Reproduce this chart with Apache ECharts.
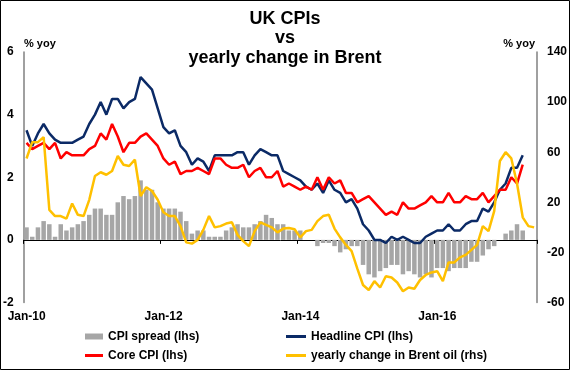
<!DOCTYPE html>
<html>
<head>
<meta charset="utf-8">
<script src="https://cdn.jsdelivr.net/npm/echarts@6/dist/echarts.min.js"></script>
<style>
  html, body { margin: 0; padding: 0; background: #fff; }
  #chart { width: 570px; height: 370px; }
</style>
</head>
<body>
<div id="chart"></div>
<script>
// Monthly observations, Jan-10 .. Apr-17 (CPI) and Jan-10 .. Jun-17 (Brent)
const tickLabels = ['Jan-10', 'Jan-12', 'Jan-14', 'Jan-16'];

const headlineCPI = [
  3.5, 3.0, 3.4, 3.7, 3.4, 3.2, 3.1, 3.1, 3.1, 3.2, 3.3, 3.7,
  4.0, 4.4, 4.0, 4.5, 4.5, 4.2, 4.4, 4.5, 5.2, 5.0, 4.8, 4.2,
  3.6, 3.4, 3.5, 3.0, 2.8, 2.4, 2.6, 2.5, 2.2, 2.7, 2.7, 2.7,
  2.7, 2.8, 2.8, 2.4, 2.7, 2.9, 2.8, 2.7, 2.7, 2.2, 2.1, 2.0,
  1.9, 1.7, 1.6, 1.8, 1.5, 1.9, 1.6, 1.5, 1.2, 1.3, 1.0, 0.5,
  0.3, 0.0, 0.0, -0.1, 0.1, 0.0, 0.1, 0.0, -0.1, -0.1, 0.1, 0.2,
  0.3, 0.3, 0.5, 0.3, 0.3, 0.5, 0.6, 0.6, 1.0, 0.9, 1.2, 1.6,
  1.8, 2.3, 2.3, 2.7
];

const coreCPI = [
  3.1, 2.9, 3.0, 3.1, 2.9, 3.1, 2.6, 2.8, 2.7, 2.7, 2.7, 2.9,
  3.0, 3.4, 3.2, 3.7, 3.3, 2.8, 3.1, 3.1, 3.3, 3.4, 3.2, 3.0,
  2.6, 2.4, 2.5, 2.1, 2.2, 2.2, 2.3, 2.2, 2.1, 2.6, 2.6, 2.4,
  2.3, 2.3, 2.4, 2.0, 2.2, 2.3, 2.0, 2.0, 2.2, 1.7, 1.8, 1.7,
  1.6, 1.7, 1.6, 2.0, 1.6, 2.0, 1.8, 1.9, 1.5, 1.5, 1.2, 1.3,
  1.4, 1.2, 1.0, 0.8, 0.9, 0.8, 1.2, 1.0, 1.0, 1.1, 1.2, 1.4,
  1.2, 1.2, 1.5, 1.2, 1.2, 1.4, 1.3, 1.3, 1.5, 1.2, 1.4, 1.6,
  1.6, 2.0, 1.8, 2.4
];

const cpiSpread = [
  0.4, 0.1, 0.4, 0.6, 0.5, 0.1, 0.5, 0.3, 0.4, 0.5, 0.6, 0.8,
  1.0, 1.0, 0.8, 0.8, 1.2, 1.4, 1.3, 1.4, 1.9, 1.6, 1.6, 1.2,
  1.0, 1.0, 1.0, 0.9, 0.6, 0.2, 0.3, 0.3, 0.1, 0.1, 0.1, 0.3,
  0.4, 0.5, 0.4, 0.4, 0.5, 0.6, 0.8, 0.7, 0.5, 0.5, 0.3, 0.3,
  0.3, 0.0, 0.0, -0.2, -0.1, -0.1, -0.2, -0.4, -0.3, -0.2, -0.2, -0.8,
  -1.1, -1.2, -1.0, -0.9, -0.8, -0.8, -1.1, -1.0, -1.1, -1.2, -1.1, -1.2,
  -0.9, -0.9, -1.0, -0.9, -0.9, -0.9, -0.7, -0.7, -0.5, -0.3, -0.2, 0.0,
  0.2, 0.3, 0.5, 0.3
];

const brentYoY = [
  55, 68, 68, 72, 14, 9, 9, 7, 19, 10, 9, 22,
  41, 44, 42, 45, 57, 50, 49, 54, 25, 32, 29, 22,
  12, 9, 9, 1, -12, -13, -10, -2, 9, 0, 1, 3,
  4, -6, -11, -15, -3, 4, 2, 0, -4, -1, -0.5, -1.5,
  -8, -3, -2, 5, 9, 10, -1, -8, -14, -19, -33, -46,
  -50, -43, -48, -39, -40, -44, -51, -48, -49, -42, -38, -36,
  -35, -43, -28, -28, -24, -22, -18, -14, 1, -3, 13, 53,
  60, 55, 35, 8, 1, 0
];

const FONT = '"Liberation Sans", Arial, Helvetica, sans-serif';
// each monthly value sits in the middle of its month on the x scale (months since Jan-10)
const toPoints = arr => arr.map((v, i) => [i + 0.5, v]);

const chart = echarts.init(document.getElementById('chart'), null, { renderer: 'canvas' });

const legendText = { color: '#000', fontSize: 12, fontWeight: 'bold', fontFamily: FONT, lineHeight: 14 };

const option = {
  animation: false,
  backgroundColor: '#ffffff',
  textStyle: { fontFamily: FONT },
  grid: { left: 23, right: 32.5, top: 52, bottom: 67.5, containLabel: false },
  xAxis: [
    {
      type: 'value', min: 0, max: 90, interval: 24, position: 'bottom',
      axisLine: { show: false, onZero: false },
      axisTick: { show: false },
      splitLine: { show: false },
      axisLabel: {
        formatter: v => (v % 24 === 0 && tickLabels[v / 24]) || '',
        color: '#000', fontSize: 12, fontWeight: 'bold', fontFamily: FONT,
        margin: 8, padding: [0, 0, 0, 6], showMaxLabel: false
      }
    },
    {
      type: 'value', min: 0, max: 90, interval: 24, position: 'top',
      axisLine: { show: true, onZero: true, onZeroAxisIndex: 0, lineStyle: { color: '#000', width: 1 } },
      axisTick: { show: true, inside: true, length: 4, lineStyle: { color: '#000', width: 1 } },
      axisLabel: { show: false },
      splitLine: { show: false }
    }
  ],
  yAxis: [
    {
      type: 'value', min: -2, max: 6, interval: 2, position: 'left',
      axisLine: { show: true, onZero: false, lineStyle: { color: '#808080', width: 1.5 } },
      axisTick: { show: false },
      splitLine: { show: false },
      axisLabel: { color: '#000', fontSize: 12, fontWeight: 'bold', fontFamily: FONT, margin: 10 }
    },
    {
      type: 'value', min: -60, max: 140, interval: 40, position: 'right',
      axisLine: { show: true, onZero: false, lineStyle: { color: '#808080', width: 1.5 } },
      axisTick: { show: false },
      splitLine: { show: false },
      axisLabel: { color: '#000', fontSize: 12, fontWeight: 'bold', fontFamily: FONT, margin: 10 }
    }
  ],
  legend: [
    { data: ['CPI spread (lhs)'], left: 85, top: 329.5, padding: 0, itemWidth: 18, itemHeight: 6, icon: 'rect', textStyle: legendText, selectedMode: false },
    { data: ['Headline CPI (lhs)'], left: 286, top: 329.5, padding: 0, itemWidth: 20, itemHeight: 3, icon: 'rect', textStyle: legendText, selectedMode: false },
    { data: ['Core CPI (lhs)'], left: 85, top: 348.5, padding: 0, itemWidth: 18, itemHeight: 3, icon: 'rect', textStyle: legendText, selectedMode: false },
    { data: ['yearly change in Brent oil (rhs)'], left: 286, top: 348.5, padding: 0, itemWidth: 20, itemHeight: 3, icon: 'rect', textStyle: legendText, selectedMode: false }
  ],
  series: [
    {
      name: 'CPI spread (lhs)', type: 'bar', xAxisIndex: 0, yAxisIndex: 0,
      data: toPoints(cpiSpread), barWidth: 4.5,
      itemStyle: { color: '#A6A6A6' }
    },
    {
      name: 'Headline CPI (lhs)', type: 'line', xAxisIndex: 0, yAxisIndex: 0,
      data: toPoints(headlineCPI), symbol: 'none',
      lineStyle: { color: '#0B2A66', width: 2.5 }, itemStyle: { color: '#0B2A66' }
    },
    {
      name: 'Core CPI (lhs)', type: 'line', xAxisIndex: 0, yAxisIndex: 0,
      data: toPoints(coreCPI), symbol: 'none',
      lineStyle: { color: '#FF0000', width: 2.5 }, itemStyle: { color: '#FF0000' }
    },
    {
      name: 'yearly change in Brent oil (rhs)', type: 'line', xAxisIndex: 0, yAxisIndex: 1,
      data: toPoints(brentYoY), symbol: 'none',
      lineStyle: { color: '#FFC000', width: 2.5 }, itemStyle: { color: '#FFC000' }
    }
  ],
  graphic: [
    { type: 'text', x: 285, y: 19, style: { text: 'UK CPIs', align: 'center', verticalAlign: 'middle', fontSize: 18, fontWeight: 'bold', fontFamily: FONT, fill: '#000' } },
    { type: 'text', x: 285, y: 38.5, style: { text: 'vs', align: 'center', verticalAlign: 'middle', fontSize: 18, fontWeight: 'bold', fontFamily: FONT, fill: '#000' } },
    { type: 'text', x: 285, y: 58, style: { text: 'yearly change in Brent', align: 'center', verticalAlign: 'middle', fontSize: 18, fontWeight: 'bold', fontFamily: FONT, fill: '#000' } },
    { type: 'text', x: 24, y: 44, style: { text: '% yoy', align: 'left', verticalAlign: 'middle', fontSize: 11, fontWeight: 'bold', fontFamily: FONT, fill: '#000' } },
    { type: 'text', x: 535, y: 44, style: { text: '% yoy', align: 'right', verticalAlign: 'middle', fontSize: 11, fontWeight: 'bold', fontFamily: FONT, fill: '#000' } },
    { type: 'rect', z: 100, shape: { x: 0.5, y: 0.5, width: 569, height: 369 }, style: { fill: 'none', stroke: '#000', lineWidth: 1 } }
  ]
};

chart.setOption(option);
</script>
</body>
</html>
